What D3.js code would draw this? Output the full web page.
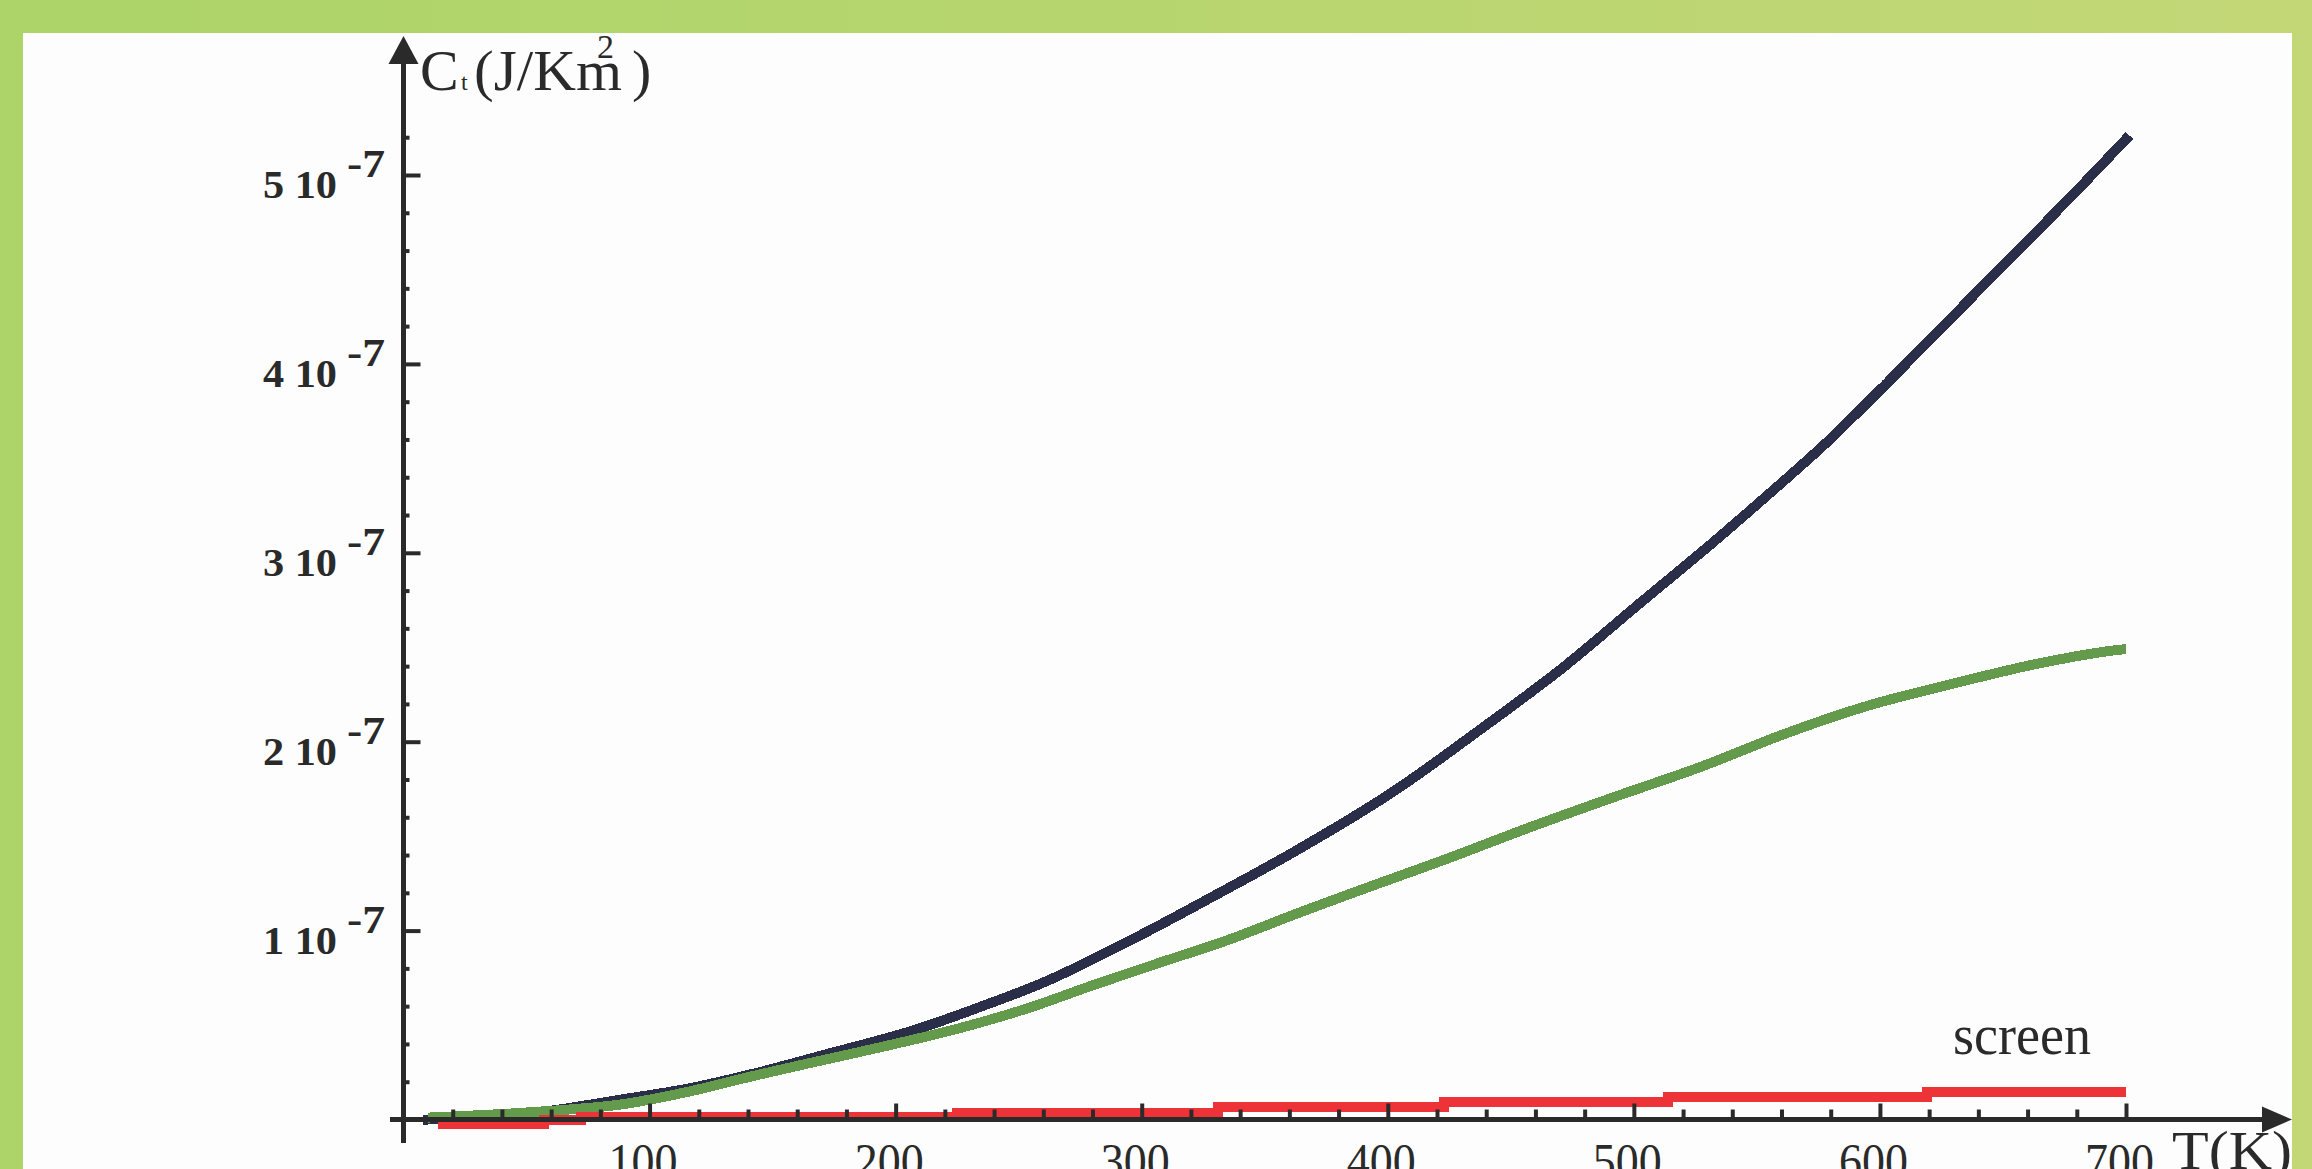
<!DOCTYPE html>
<html lang="en">
<head>
    <meta charset="UTF-8">
    <title>Heat capacity vs temperature</title>
    <script src="https://d3js.org/d3.v7.min.js"></script>
    <style>
        html, body { margin: 0; padding: 0; background: #fdfdfd; overflow: hidden; }
        svg { display: block; }
        .lbl { font-family: "Liberation Serif", "Times New Roman", serif; fill: #2a2a2a; }
    </style>
</head>
<body>
<div id="chart"></div>
<script>
    // ---- data (C values in units of 1e-7 J/K m^2) ----
    const darkT = [10, 50, 90, 115, 143, 170, 207, 236, 262, 298, 331, 363, 401, 435, 470, 504, 529, 553, 578, 603, 628, 653, 678, 700];
    const darkC = [0.0, 0.03, 0.109, 0.162, 0.245, 0.339, 0.471, 0.604, 0.736, 0.966, 1.195, 1.425, 1.725, 2.04, 2.38, 2.75, 3.02, 3.29, 3.58, 3.90, 4.23, 4.56, 4.89, 5.19];

    const greenT = [10, 50, 88, 115, 143, 170, 198, 225, 253, 280, 308, 335, 363, 390, 424, 458, 492, 527, 561, 595, 629, 663, 693, 700];
    const greenC = [0.01, 0.037, 0.079, 0.145, 0.233, 0.313, 0.395, 0.48, 0.586, 0.71, 0.833, 0.95, 1.09, 1.22, 1.38, 1.548, 1.707, 1.866, 2.04, 2.19, 2.305, 2.41, 2.48, 2.49];

    // "screen" curve is a staircase
    const redT = [14, 57, 72, 225, 331, 423, 514, 619, 700];
    const redC = [-0.025, 0.0, 0.011, 0.037, 0.064, 0.093, 0.119, 0.148, 0.148];

    const xTickLabels = [100, 200, 300, 400, 500, 600, 700];
    const yTickLabels = [1, 2, 3, 4, 5];
    const unit = 1e-7;

    const W = 2312, H = 1169;

    const svg = d3.select("#chart").append("svg")
        .attr("width", W)
        .attr("height", H);

    svg.append("rect").attr("width", W).attr("height", H).attr("fill", "#fdfdfd");

    const x = d3.scaleLinear().domain([0, 700]).range([403.5, 2126]);
    const y = d3.scaleLinear().domain([0, 5 * unit]).range([1119.5, 175]);

    const smooth = d3.line()
        .x(d => x(d[0]))
        .y(d => y(d[1] * unit))
        .curve(d3.curveCatmullRom.alpha(0.5));

    const steps = d3.line()
        .x(d => x(d[0]))
        .y(d => y(d[1] * unit))
        .curve(d3.curveStepAfter);

    // curves: dark first, green over it, red over both
    svg.append("path")
        .datum(d3.zip(darkT, darkC))
        .attr("fill", "none")
        .attr("stroke", "#2a2e48")
        .attr("stroke-width", 10)
        .attr("stroke-linecap", "square")
        .attr("shape-rendering", "crispEdges")
        .attr("d", smooth);

    svg.append("path")
        .datum(d3.zip(greenT, greenC))
        .attr("fill", "none")
        .attr("stroke", "#649a4b")
        .attr("stroke-width", 10)
        .attr("shape-rendering", "crispEdges")
        .attr("d", smooth);

    svg.append("path")
        .datum(d3.zip(redT, redC))
        .attr("fill", "none")
        .attr("stroke", "#ee3338")
        .attr("stroke-width", 10)
        .attr("shape-rendering", "crispEdges")
        .attr("d", steps);

    // axes
    const axisColor = "#2a2a2a";

    const xAxis = svg.append("g")
        .attr("transform", `translate(0,${y(0)})`)
        .call(d3.axisBottom(x)
            .tickValues(d3.range(20, 701, 20))
            .tickSize(-10)
            .tickSizeOuter(0)
            .tickFormat(""));
    xAxis.select(".domain").remove();
    xAxis.selectAll(".tick line")
        .attr("stroke", axisColor)
        .attr("stroke-width", 4)
        .attr("y2", d => d % 100 === 0 ? -16 : -10);

    const yAxis = svg.append("g")
        .attr("transform", `translate(${x(0)},0)`)
        .call(d3.axisLeft(y)
            .tickValues(d3.range(1, 27).map(i => i * 0.2 * unit))
            .tickSize(-5)
            .tickSizeOuter(0)
            .tickFormat(""));
    yAxis.select(".domain").remove();
    yAxis.selectAll(".tick line")
        .attr("stroke", axisColor)
        .attr("stroke-width", 4)
        .attr("x2", (d, i) => (i + 1) % 5 === 0 ? 17 : 6);

    // axis lines
    svg.append("line")
        .attr("x1", 390).attr("x2", 2270)
        .attr("y1", y(0)).attr("y2", y(0))
        .attr("stroke", axisColor).attr("stroke-width", 5);
    svg.append("line")
        .attr("x1", x(0)).attr("x2", x(0))
        .attr("y1", 50).attr("y2", 1143)
        .attr("stroke", axisColor).attr("stroke-width", 5);

    // arrow heads
    svg.append("path")
        .attr("d", `M${x(0)},36 L${x(0) + 15},64 L${x(0) - 15},64 Z`)
        .attr("fill", axisColor);
    svg.append("path")
        .attr("d", `M2292,${y(0)} L2262,${y(0) - 13} L2262,${y(0) + 13} Z`)
        .attr("fill", axisColor);

    // y tick labels: "n 10^-7"
    yTickLabels.forEach(v => {
        const ty = y(v * unit);
        svg.append("text").attr("class", "lbl")
            .attr("x", 263).attr("y", ty + 23)
            .attr("font-size", 40).attr("font-weight", "bold")
            .attr("textLength", 74).attr("lengthAdjust", "spacingAndGlyphs")
            .text(v + " 10");
        svg.append("text").attr("class", "lbl")
            .attr("x", 347).attr("y", ty + 2)
            .attr("font-size", 40).attr("font-weight", "bold")
            .attr("textLength", 38).attr("lengthAdjust", "spacingAndGlyphs")
            .text("-7");
    });

    // x tick labels
    xTickLabels.forEach(v => {
        svg.append("text").attr("class", "lbl")
            .attr("x", x(v) - 41).attr("y", 1178)
            .attr("font-size", 50)
            .attr("textLength", 69).attr("lengthAdjust", "spacingAndGlyphs")
            .text(v);
    });

    // axis titles
    svg.append("text").attr("class", "lbl").attr("x", 2172).attr("y", 1169)
        .attr("font-size", 54)
        .attr("textLength", 120).attr("lengthAdjust", "spacingAndGlyphs")
        .text("T(K)");

    svg.append("text").attr("class", "lbl").attr("x", 420).attr("y", 90)
        .attr("font-size", 58).text("C");
    svg.append("text").attr("class", "lbl").attr("x", 461).attr("y", 90)
        .attr("font-size", 24).text("t");
    svg.append("text").attr("class", "lbl").attr("x", 474).attr("y", 90)
        .attr("font-size", 58)
        .attr("textLength", 148).attr("lengthAdjust", "spacingAndGlyphs")
        .text("(J/Km");
    svg.append("text").attr("class", "lbl").attr("x", 597).attr("y", 58)
        .attr("font-size", 34).text("2");
    svg.append("text").attr("class", "lbl").attr("x", 632).attr("y", 90)
        .attr("font-size", 58).text(")");

    // curve label
    svg.append("text").attr("class", "lbl").attr("x", 1953).attr("y", 1054)
        .attr("font-size", 56)
        .attr("textLength", 138).attr("lengthAdjust", "spacingAndGlyphs")
        .text("screen");

    // green frame
    const defs = svg.append("defs");
    const grad = defs.append("linearGradient").attr("id", "frame")
        .attr("x1", "0%").attr("x2", "100%").attr("y1", "0%").attr("y2", "0%");
    grad.append("stop").attr("offset", "0%").attr("stop-color", "#acd468");
    grad.append("stop").attr("offset", "100%").attr("stop-color", "#c3d777");

    svg.append("rect").attr("x", 0).attr("y", 0).attr("width", W).attr("height", 33).attr("fill", "url(#frame)");
    svg.append("rect").attr("x", 0).attr("y", 0).attr("width", 23).attr("height", H).attr("fill", "#acd468");
    svg.append("rect").attr("x", 2292).attr("y", 0).attr("width", 20).attr("height", H).attr("fill", "#c3d777");
</script>
</body>
</html>
